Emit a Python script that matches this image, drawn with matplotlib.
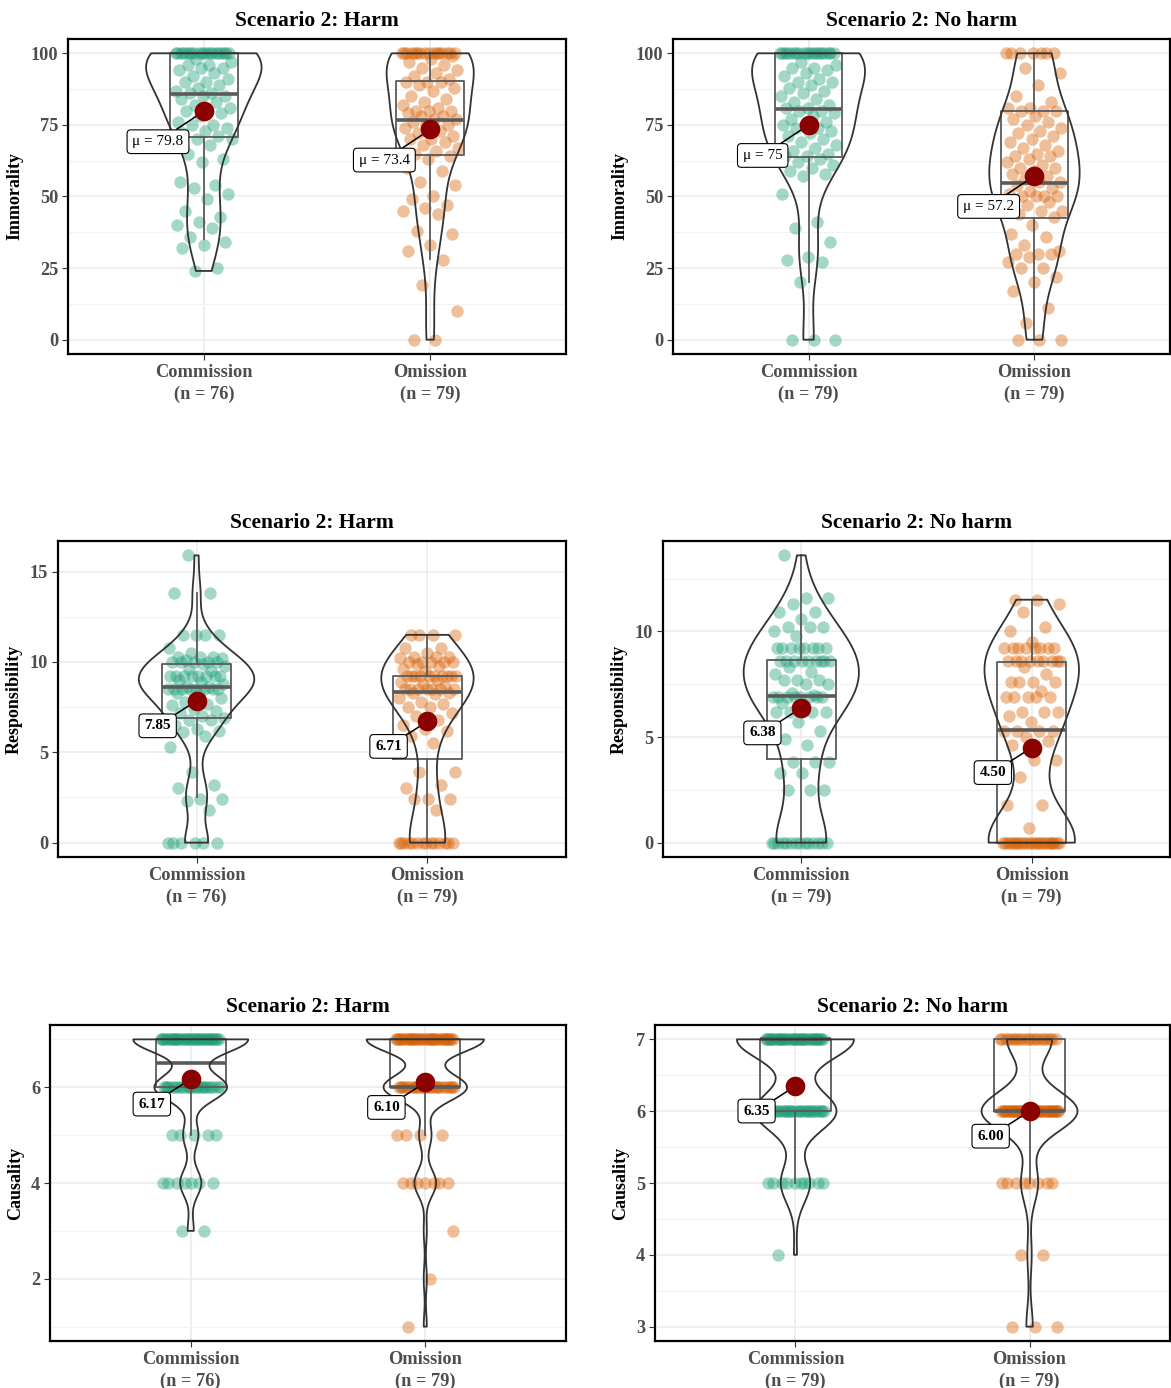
import numpy as np
import matplotlib.pyplot as plt
from matplotlib.ticker import MultipleLocator

plt.rcParams['font.family'] = ['Liberation Serif', 'DejaVu Serif']

groups = ['Commission', 'Omission']
colors = ['#1B9E77', '#D95F02']

# ---- Immorality, harm
imm_harm_com = ([100] * 20
                + [98, 97, 96, 96, 95, 95, 94, 93, 92, 91, 90, 90, 89, 88, 87, 86, 86]
                + [85, 85, 84, 83, 82, 81, 80, 80, 79, 78, 76, 75, 75, 74, 73, 72, 71, 70, 70]
                + [68, 65, 63, 62, 55, 54, 53, 51, 49, 45, 43, 41, 40, 39, 36, 34, 33, 32, 25, 24])
imm_harm_om = ([100] * 16 + [99]
               + [98, 97, 96, 95, 94, 93, 92, 91, 90, 90, 90, 89, 88, 87, 85, 84, 83, 82, 81, 80,
                  80, 80, 79, 78, 78, 77, 77, 76, 75, 75, 74, 73, 72, 71, 70, 70, 69, 68, 67, 66,
                  65, 64, 63]
               + [60, 59, 55, 54, 50, 49, 47, 46, 45, 44, 38, 37, 33, 31, 28, 19, 10, 0, 0])

# ---- Immorality, no harm
imm_noharm_com = ([100] * 20
                  + [97, 96, 95, 95, 94, 93, 92, 91, 90, 90, 89, 88, 87, 86, 85, 84, 83, 82, 81]
                  + [81, 80, 80, 79, 78, 77, 76, 75, 75, 74, 74, 73, 72, 71, 70, 69, 68, 67, 66, 65,
                     64, 64, 63, 62, 61, 60, 59, 58, 57]
                  + [51, 41, 39, 34, 29, 28, 27, 20]
                  + [0, 0, 0])
imm_noharm_om = ([100] * 7
                 + [95, 93, 89, 85, 83, 81, 81, 80, 80, 80, 78, 77]
                 + [76, 75, 74, 73, 72, 71, 70, 69, 68, 67, 66, 65, 64, 64, 63, 62, 61, 60, 60, 59,
                    58, 57, 56, 55, 55, 54, 53, 52, 51, 50, 50, 50, 50, 49, 48, 47, 45, 45, 44, 43]
                 + [40, 37, 36, 33, 31, 30, 30, 30, 29, 27, 25, 25, 22, 20, 17]
                 + [11, 6, 0, 0, 0])

# ---- Responsibility, harm
resp_harm_com = ([0] * 6
                 + [1.8, 2.3, 2.4, 2.4, 3.0, 3.2, 3.9]
                 + [5.3, 5.9, 6.1, 6.2, 6.3, 6.5, 6.8, 6.8, 6.9, 7.0, 7.2, 7.3, 7.4, 7.6, 7.7, 7.8,
                    8.0, 8.2, 8.3]
                 + [8.5] * 8 + [8.6, 8.6, 8.8, 8.9, 9.0] + [9.2] * 8 + [9.5, 9.6, 9.8, 9.9]
                 + [10.0] * 5 + [10.1, 10.2, 10.3, 10.3, 10.3, 10.5, 10.8]
                 + [11.5] * 4 + [13.8, 13.8, 15.9])
resp_harm_om = ([0] * 14
                + [1.8, 2.4, 2.4, 2.4, 3.0, 3.2, 3.9, 3.9]
                + [5.5, 5.9, 6.2, 6.3, 6.5, 6.8, 7.0, 7.2, 7.5, 7.5, 7.7, 7.8, 8.0, 8.2]
                + [8.3, 8.3] + [8.5] * 7 + [8.6, 8.8, 8.9, 9.0] + [9.2] * 10 + [9.5, 9.6, 9.8, 9.9]
                + [10.0] * 5 + [10.2, 10.3, 10.3, 10.3, 10.5, 10.8, 10.8] + [11.5] * 4)

# ---- Responsibility, no harm
resp_noharm_com = ([0] * 14
                   + [2.5, 2.5, 2.5, 3.3, 3.3, 3.8, 3.8, 3.8]
                   + [4.6, 4.9, 5.3, 5.7, 6.2, 6.2, 6.2, 6.2, 6.5, 6.6] + [6.9] * 8
                   + [7.0, 7.1, 7.5, 7.5, 7.7, 7.7, 7.7, 8.0, 8.1, 8.3]
                   + [8.6] * 9 + [9.2] * 8
                   + [9.8, 10.0, 10.2, 10.2, 10.2, 10.6, 10.9, 10.9, 11.3, 11.6, 11.6, 13.6])
resp_noharm_om = ([0] * 25
                  + [0.7, 1.8, 1.8, 3.1, 3.9, 3.9, 4.6, 4.8, 5.0, 5.3, 5.3, 5.3, 5.3, 5.7, 6.0]
                  + [6.2, 6.2, 6.2, 6.9, 6.9, 6.9, 6.9, 6.9, 7.2, 7.6, 7.6, 7.6, 7.6, 8.0, 8.3]
                  + [8.6] * 9 + [9.2] * 8
                  + [9.5, 10.0, 10.2, 10.9, 11.3, 11.5, 11.5])

# ---- Causality (ratings 1-7)
caus_harm_com = [7] * 38 + [6] * 24 + [5] * 5 + [4] * 7 + [3] * 2
caus_harm_om = [7] * 38 + [6] * 27 + [5] * 4 + [4] * 7 + [3, 2, 1]
caus_noharm_com = [7] * 40 + [6] * 28 + [5] * 10 + [4]
caus_noharm_om = [7] * 21 + [6] * 45 + [5] * 8 + [4] * 2 + [3] * 3

# box stats: [whisker low, q1, median, q3, whisker high]
imm_harm_box = [[35, 70.7, 85.7, 100, 100], [28.3, 64.6, 76.8, 90.3, 100]]
imm_noharm_box = [[20.2, 63.8, 80.7, 100, 100], [0, 42.4, 54.6, 79.9, 100]]
resp_harm_box = [[2.5, 6.88, 8.6, 9.91, 13.8], [0, 4.63, 8.35, 9.23, 11.5]]
resp_noharm_box = [[0, 3.94, 6.93, 8.64, 13.6], [0, 0, 5.32, 8.56, 11.5]]
caus_harm_box = [[5, 6, 6.5, 7, 7], [5, 6, 6, 7, 7]]
caus_noharm_box = [[5, 6, 7, 7, 7], [5, 6, 6, 7, 7]]

# means as labelled
imm_harm_means, imm_harm_labels = [79.8, 73.4], ['μ = 79.8', 'μ = 73.4']
imm_noharm_means, imm_noharm_labels = [75, 57.2], ['μ = 75', 'μ = 57.2']
resp_harm_means, resp_harm_labels = [7.85, 6.71], ['7.85', '6.71']
resp_noharm_means, resp_noharm_labels = [6.38, 4.50], ['6.38', '4.50']
caus_harm_means, caus_harm_labels = [6.17, 6.10], ['6.17', '6.10']
caus_noharm_means, caus_noharm_labels = [6.35, 6.00], ['6.35', '6.00']


def nrd0(kde):
    # R's default bandwidth (bw.nrd0), as used by ggplot violins
    x = kde.dataset.ravel()
    sd = x.std(ddof=1)
    q75, q25 = np.percentile(x, [75, 25])
    lo = min(sd, (q75 - q25) / 1.34)
    if lo <= 0:
        lo = sd
    return 0.9 * lo * len(x) ** -0.2 / sd


panels = [
    dict(title='Scenario 2: Harm', ylab='Immorality', data=[imm_harm_com, imm_harm_om],
         box=imm_harm_box, means=imm_harm_means, labels=imm_harm_labels,
         yticks=[0, 25, 50, 75, 100], minor=12.5, vw=[0.51, 0.385],
         rect=[68, 39, 566, 354], bold=False),
    dict(title='Scenario 2: No harm', ylab='Immorality', data=[imm_noharm_com, imm_noharm_om],
         box=imm_noharm_box, means=imm_noharm_means, labels=imm_noharm_labels,
         yticks=[0, 25, 50, 75, 100], minor=12.5, vw=[0.50, 0.40],
         rect=[673, 39, 1170, 354], bold=False),
    dict(title='Scenario 2: Harm', ylab='Responsibility', data=[resp_harm_com, resp_harm_om],
         box=resp_harm_box, means=resp_harm_means, labels=resp_harm_labels,
         yticks=[0, 5, 10, 15], minor=2.5, vw=[0.50, 0.40],
         rect=[58, 541, 566, 857], bold=True),
    dict(title='Scenario 2: No harm', ylab='Responsibility', data=[resp_noharm_com, resp_noharm_om],
         box=resp_noharm_box, means=resp_noharm_means, labels=resp_noharm_labels,
         yticks=[0, 5, 10], minor=2.5, vw=[0.50, 0.41],
         rect=[663, 541, 1170, 857], bold=True),
    dict(title='Scenario 2: Harm', ylab='Causality', data=[caus_harm_com, caus_harm_om],
         box=caus_harm_box, means=caus_harm_means, labels=caus_harm_labels,
         yticks=[2, 4, 6], minor=1, vw=[0.49, 0.50],
         rect=[50, 1025, 566, 1341], bold=True),
    dict(title='Scenario 2: No harm', ylab='Causality', data=[caus_noharm_com, caus_noharm_om],
         box=caus_noharm_box, means=caus_noharm_means, labels=caus_noharm_labels,
         yticks=[3, 4, 5, 6, 7], minor=0.5, vw=[0.50, 0.41],
         rect=[655, 1025, 1170, 1341], bold=True),
]

W, H = 1171, 1388
fig = plt.figure(figsize=(W / 100, H / 100), dpi=100)

for p in panels:
    x0, y0, x1, y1 = p['rect']
    ax = fig.add_axes([x0 / W, 1 - y1 / H, (x1 - x0) / W, (y1 - y0) / H])
    pos = [1, 2]

    # jittered raw points
    for x, vals, col in zip(pos, p['data'], colors):
        n = len(vals)
        off = ((np.arange(n) * 0.6180339887) % 1.0 - 0.5) * 0.25
        ax.scatter(x + off, vals, s=80, color=col, alpha=0.4, linewidths=0, zorder=2)

    # boxplots
    stats = [dict(whislo=b[0], q1=b[1], med=b[2], q3=b[3], whishi=b[4]) for b in p['box']]
    ax.bxp(stats, positions=pos, widths=0.3, showfliers=False, showcaps=False,
           boxprops=dict(color='#5a5a5a', lw=1.3),
           whiskerprops=dict(color='#5a5a5a', lw=1.3),
           medianprops=dict(color='#5a5a5a', lw=2.6), zorder=3)

    # violins
    vp = ax.violinplot(p['data'], positions=pos, widths=p['vw'], showextrema=False,
                       bw_method=nrd0, points=400)
    for body in vp['bodies']:
        body.set_facecolor('none')
        body.set_edgecolor('#333333')
        body.set_linewidth(1.3)
        body.set_alpha(1)
        body.set_zorder(4)

    # means with labels
    ax.scatter(pos, p['means'], s=200, color='#8B0000', linewidths=0, zorder=7)
    off = (-28, -18) if p['bold'] else (-33, -22)
    for x, m, lab in zip(pos, p['means'], p['labels']):
        ax.annotate(lab, xy=(x, m), xytext=off, textcoords='offset points',
                    ha='center', va='center', fontsize=11,
                    fontweight='bold' if p['bold'] else 'normal',
                    bbox=dict(boxstyle='round,pad=0.35,rounding_size=0.25', fc='white',
                              ec='black', lw=0.8),
                    arrowprops=dict(arrowstyle='-', color='black', lw=1.1,
                                    shrinkA=0, shrinkB=0),
                    zorder=6)

    ax.set_xlim(0.4, 2.6)
    ax.margins(y=0.05)
    ax.set_xticks(pos)
    ax.set_xticklabels([f'{g}\n(n = {len(d)})' for g, d in zip(groups, p['data'])],
                       fontsize=13.2, fontweight='bold', color='#4D4D4D', linespacing=1.35)
    ax.set_yticks(p['yticks'])
    ax.set_yticklabels([str(t) for t in p['yticks']], fontsize=13.2, fontweight='bold',
                       color='#4D4D4D')
    ax.yaxis.set_minor_locator(MultipleLocator(p['minor']))
    ax.tick_params(which='major', length=4, width=0.8, color='#333333', pad=3)
    ax.tick_params(which='minor', length=0)
    ax.grid(which='major', color='#EBEBEB', lw=1.1)
    ax.grid(which='minor', axis='y', color='#F2F2F2', lw=0.8)
    ax.set_axisbelow(True)
    for s in ax.spines.values():
        s.set_linewidth(1.6)
        s.set_color('black')
    ax.set_title(p['title'], fontsize=15.5, fontweight='bold', pad=9)
    ax.set_ylabel(p['ylab'], fontsize=13, fontweight='bold', labelpad=5)

fig.savefig('out.png', dpi=100)
